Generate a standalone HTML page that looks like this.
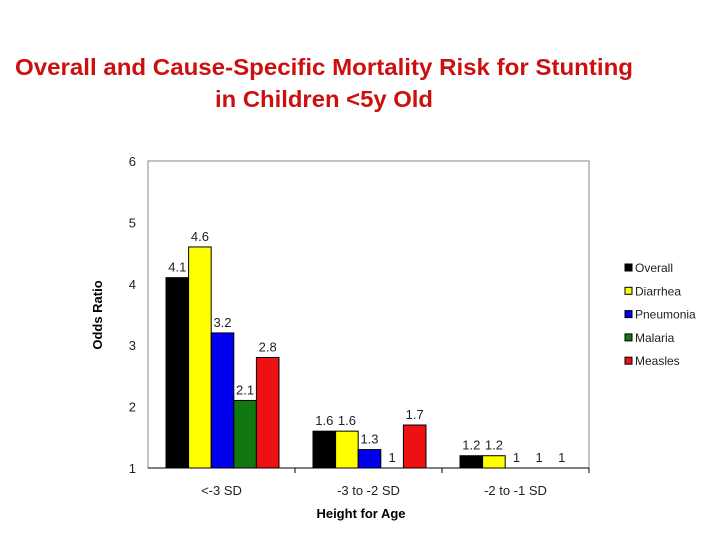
<!DOCTYPE html>
<html><head><meta charset="utf-8"><style>
body{margin:0;background:#fff;width:720px;height:540px;overflow:hidden}
svg text{font-family:"Liberation Sans",Arial,sans-serif}
</style></head><body>
<svg id="chart" width="720" height="540" xmlns="http://www.w3.org/2000/svg">
<text x="15" y="75" textLength="618" lengthAdjust="spacingAndGlyphs" font-size="23" font-weight="bold" fill="#cc1010">Overall and Cause-Specific Mortality Risk for Stunting</text>
<text x="215" y="107" textLength="218" lengthAdjust="spacingAndGlyphs" font-size="23" font-weight="bold" fill="#cc1010">in Children &lt;5y Old</text>
<rect x="148" y="161" width="441" height="307" fill="#fff" stroke="#888" stroke-width="1"/>
<g id="yaxis"></g><g id="bars"></g><g id="xaxis"></g>
<text transform="translate(102,315) rotate(-90)" text-anchor="middle" font-size="13" font-weight="bold">Odds Ratio</text>
<text x="361" y="518" text-anchor="middle" font-size="13" font-weight="bold">Height for Age</text>
<g id="legend"></g>
</svg>
<script>
const categories=["<-3 SD","-3 to -2 SD","-2 to -1 SD"];
const seriesNames=["Overall","Diarrhea","Pneumonia","Malaria","Measles"];
const seriesColors=["#000000","#ffff00","#0000ee","#117711","#ee1111"];
const overall=[4.1,1.6,1.2];
const diarrhea=[4.6,1.6,1.2];
const pneumonia=[3.2,1.3,1];
const malaria=[2.1,1,1];
const measles=[2.8,1.7,1];
const yTicks=[1,2,3,4,5,6];
const series=[overall,diarrhea,pneumonia,malaria,measles];
const NS="http://www.w3.org/2000/svg";
const L=148,R=589,T=161,B=468,ymin=1,ymax=6;
const y=v=>B-(v-ymin)/(ymax-ymin)*(B-T);
const bw=(R-L)/categories.length;
const barW=22.6;
function mk(t,a,p){const e=document.createElementNS(NS,t);for(const k in a)e.setAttribute(k,a[k]);(p||document.getElementById('chart')).appendChild(e);return e;}
const ya=document.getElementById('yaxis');
yTicks.forEach(v=>{const t=mk('text',{x:136,y:y(v)+5,'text-anchor':'end','font-size':13,fill:'#222'},ya);t.textContent=v;

});
const xa=document.getElementById('xaxis');
mk('line',{x1:L,y1:B,x2:R,y2:B,stroke:'#000'},xa);
categories.forEach((c,i)=>{const cx=L+bw*(i+0.5);
const t=mk('text',{x:cx,y:495,'text-anchor':'middle','font-size':13,fill:'#222'},xa);t.textContent=c;


const tk=mk('line',{x1:L+bw*(i+1),y1:B,x2:L+bw*(i+1),y2:B+5,stroke:'#000'},xa);

});
const bg=document.getElementById('bars');
categories.forEach((c,i)=>{const start=L+bw*(i+0.5)-barW*series.length/2+1;
series.forEach((s,j)=>{const v=s[i];const x=start+j*barW;
if(v>ymin){const r=mk('rect',{x:x,y:y(v),width:barW,height:B-y(v),fill:seriesColors[j],stroke:'#000','stroke-width':1},bg);

}
const t=mk('text',{x:x+barW/2,y:y(v)-6,'text-anchor':'middle','font-size':13,fill:'#222'},bg);t.textContent=v;

});});
const lg=document.getElementById('legend');
seriesNames.forEach((n,j)=>{const yy=268+j*23.3;
const r=mk('rect',{x:625,y:yy-4,width:7,height:7,fill:seriesColors[j],stroke:'#000','stroke-width':1},lg);


const t=mk('text',{x:635,y:yy+4,'font-size':12,fill:'#222'},lg);t.textContent=n;

});
</script>
</body></html>
